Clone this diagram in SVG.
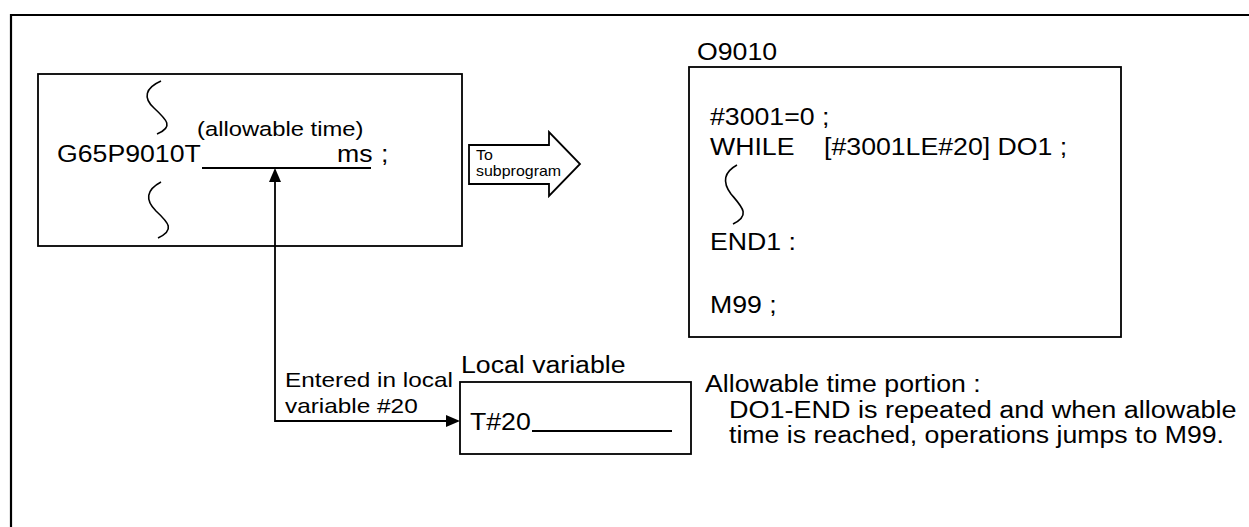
<svg xmlns="http://www.w3.org/2000/svg" width="1249" height="527" viewBox="0 0 1249 527">
<style>
  .frame { fill: none; stroke: #000; stroke-width: 2.2; }
  .box { fill: #fff; stroke: #000; stroke-width: 1.8; }
  .line { fill: none; stroke: #000; stroke-width: 1.8; }
  .squig { fill: none; stroke: #000; stroke-width: 1.6; }
  .t { font-family: "Liberation Sans", Arial, sans-serif; font-size: 23px; fill: #000; }
  .s21 { font-size: 21px; }
  .s20 { font-size: 20.5px; }
  .s13 { font-size: 14px; }
</style>
<defs>
  <marker id="ah" markerUnits="userSpaceOnUse" markerWidth="14" markerHeight="12" refX="1" refY="6" orient="auto-start-reverse">
    <path d="M0,0 L14,6 L0,12 z" fill="#000"/>
  </marker>
</defs>
<rect width="1249" height="527" fill="#fff"/>
<path class="frame" d="M11,527 V15 H1249"/>

<g id="main-program">
  <rect class="box" x="38" y="74" width="424" height="172"/>
  <path class="squig" d="M161,81 C145,88 143,98 154,108 C167,120 174,127 157,134"/>
  <path class="squig" d="M161,182 C146,190 145,200 156,211 C169,223 175,230 158,238"/>
  <text class="t s20" transform="translate(197 136) scale(1.16 1)">(allowable time)</text>
  <text class="t" transform="translate(57 162) scale(1.16 1)">G65P9010T</text>
  <line class="line" x1="202" y1="168" x2="371" y2="168"/>
  <text class="t" transform="translate(337 162) scale(1.16 1)">ms</text>
  <text class="t" transform="translate(381 162) scale(1.16 1)">;</text>
</g>

<g id="to-subprogram">
  <polygon class="box" points="469,145 549,145 549,132 580,164 549,196 549,184 469,184"/>
  <text class="t s13" transform="translate(476 160) scale(1.14 1)">To</text>
  <text class="t s13" transform="translate(476 176) scale(1.14 1)">subprogram</text>
</g>

<g id="subprogram-O9010">
  <text class="t" transform="translate(697 60) scale(1.16 1)">O9010</text>
  <rect class="box" x="689" y="67" width="432" height="270"/>
  <text class="t" transform="translate(710 125) scale(1.16 1)">#3001=0 ;</text>
  <text class="t" xml:space="preserve" transform="translate(710 155) scale(1.16 1)">WHILE    [#3001LE#20] DO1 ;</text>
  <path class="squig" d="M737,165 C724,172 722,182 731,194 C742,207 751,215 733,224"/>
  <text class="t" transform="translate(710 250) scale(1.16 1)">END1 :</text>
  <text class="t" transform="translate(710 313) scale(1.16 1)">M99 ;</text>
</g>

<g id="local-variable">
  <text class="t" transform="translate(461 373) scale(1.16 1)">Local variable</text>
  <rect class="box" x="460" y="382" width="231" height="72"/>
  <text class="t" transform="translate(470 430) scale(1.16 1)">T#20</text>
  <line class="line" x1="532" y1="431" x2="672" y2="431"/>
</g>

<g id="entered-label">
  <text class="t s21" transform="translate(285 387) scale(1.16 1)">Entered in local</text>
  <text class="t s21" transform="translate(285 413) scale(1.16 1)">variable #20</text>
</g>

<g id="allowable-note">
  <text class="t" transform="translate(705 392) scale(1.16 1)">Allowable time portion :</text>
  <text class="t" transform="translate(729 418) scale(1.175 1)">DO1-END is repeated and when allowable</text>
  <text class="t" transform="translate(729 443) scale(1.16 1)">time is reached, operations jumps to M99.</text>
</g>

<g id="connectors">
  <path class="line" d="M275,181 V421 H447" marker-start="url(#ah)" marker-end="url(#ah)"/>
</g>
</svg>
